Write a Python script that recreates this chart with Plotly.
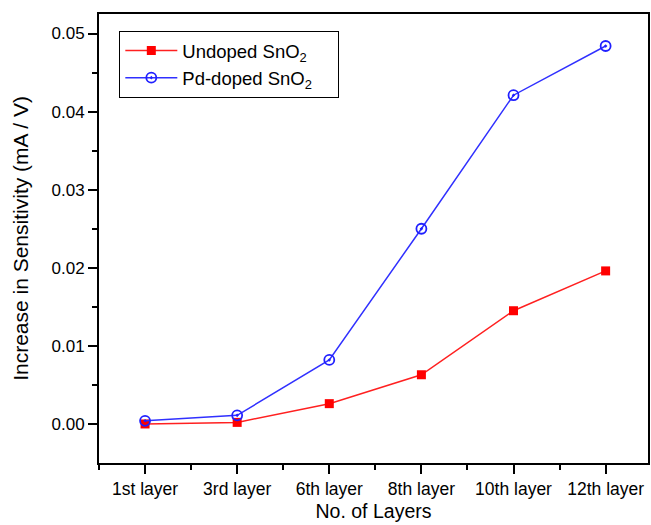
import plotly.graph_objects as go

layers = ["1st layer", "3rd layer", "6th layer", "8th layer", "10th layer", "12th layer"]
undoped = [0.0000, 0.0002, 0.0026, 0.0063, 0.0145, 0.0196]
pd_doped = [0.0004, 0.0011, 0.0082, 0.0250, 0.0421, 0.0484]
yticks = [0.00, 0.01, 0.02, 0.03, 0.04, 0.05]

xi = list(range(len(layers)))
pad = "\u00a0" * 4

fig = go.Figure()
fig.add_trace(go.Scatter(
    x=xi, y=undoped, mode="lines+markers", name="Undoped SnO<sub>2</sub>" + pad,
    line=dict(color="#ff2020", width=1.5),
    marker=dict(symbol="square", size=9, color="#ff0000"),
))
fig.add_trace(go.Scatter(
    x=xi, y=pd_doped, mode="lines+markers", name="Pd-doped SnO<sub>2</sub>" + pad,
    line=dict(color="#3030ff", width=1.5),
    marker=dict(symbol="circle-open-dot", size=10, color="#2020ff", line=dict(width=1.8)),
))

fig.update_layout(
    width=651, height=525,
    margin=dict(l=99, r=1, t=14, b=62),
    plot_bgcolor="white", paper_bgcolor="white",
    font=dict(family="Liberation Sans, Arial, sans-serif", size=17, color="black"),
    showlegend=True,
    legend=dict(x=0.037, y=0.962, xanchor="left", yanchor="top",
                bordercolor="black", borderwidth=1, bgcolor="white",
                font=dict(size=18.5), tracegroupgap=0, itemwidth=52),
)
fig.update_xaxes(
    range=[-0.5, 5.46],
    tickmode="array", tickvals=xi, ticktext=layers,
    showgrid=False, zeroline=False,
    showline=True, linecolor="black", linewidth=2, mirror=True,
    ticks="outside", ticklen=9, tickwidth=1.5, tickcolor="black",
    minor=dict(tickvals=[i + 0.5 for i in range(-1, 6)], ticks="outside", ticklen=5, tickwidth=1.5, tickcolor="black"),
    tickfont=dict(size=17.5),
    title=dict(text="No. of Layers", font=dict(size=19.5), standoff=6),
)
fig.update_yaxes(
    range=[-0.005, 0.0525],
    tickmode="array", tickvals=yticks, ticktext=[f"{v:.2f}" for v in yticks],
    showgrid=False, zeroline=False,
    showline=True, linecolor="black", linewidth=2, mirror=True,
    ticks="outside", ticklen=9, tickwidth=1.5, tickcolor="black",
    minor=dict(tickvals=[0.005, 0.015, 0.025, 0.035, 0.045], ticks="outside", ticklen=5, tickwidth=1.5, tickcolor="black"),
    tickfont=dict(size=17),
    title=dict(text="Increase in Sensitivity (mA / V)", font=dict(size=21), standoff=17),
)

fig.write_html("out.html")
